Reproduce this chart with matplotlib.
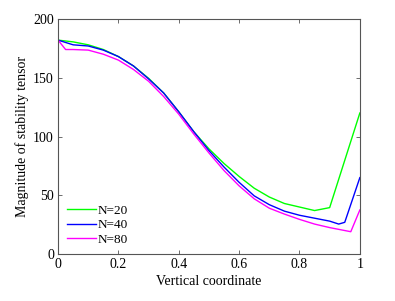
import numpy as np
import matplotlib
matplotlib.use("Agg")
import matplotlib.pyplot as plt

plt.rcParams['font.family'] = ['Liberation Serif', 'DejaVu Serif']

# values
x20 = [0, 0.05, 0.1, 0.15, 0.2, 0.25, 0.3, 0.35, 0.4, 0.45, 0.5, 0.55, 0.6, 0.65, 0.7, 0.75, 0.8, 0.85, 0.9, 1.0]
y20 = [182, 180.5, 178, 174, 168, 160, 149.5, 137, 121, 104, 89.5, 77, 66, 56, 48.5, 43, 40, 37, 39.5, 120]

x40 = [0, 0.05, 0.1, 0.15, 0.2, 0.25, 0.3, 0.35, 0.4, 0.45, 0.5, 0.55, 0.6, 0.65, 0.7, 0.75, 0.8, 0.85, 0.9, 0.93, 0.95, 1.0]
y40 = [182, 178, 177, 173.5, 168, 160, 149, 137, 121, 104, 88, 74, 61, 49.5, 42, 36.5, 33, 30.5, 28, 25.5, 27, 65]

x80 = [0, 0.025, 0.05, 0.1, 0.15, 0.2, 0.25, 0.3, 0.35, 0.4, 0.45, 0.5, 0.55, 0.6, 0.65, 0.7, 0.75, 0.8, 0.85, 0.9, 0.95, 0.97, 1.0]
y80 = [182, 174, 174, 173.5, 170, 165, 157, 147, 134, 119, 102, 86, 71, 58, 47, 39, 34, 29.5, 25.5, 22.5, 20, 19, 37.5]

labels = ['N=20', 'N=40', 'N=80']

fig = plt.figure(figsize=(3.95, 3.01), dpi=100)
ax = fig.add_axes([0.147, 0.156, 0.764, 0.781])

ax.plot(x20, y20, color='#00ff00', lw=1.0, label=labels[0])
ax.plot(x40, y40, color='#0000ff', lw=1.0, label=labels[1])
ax.plot(x80, y80, color='#ff00ff', lw=1.0, label=labels[2])

ax.set_xlim(0, 1)
ax.set_ylim(0, 200)
ax.set_xticks([0, 0.2, 0.4, 0.6, 0.8, 1])
ax.set_xticklabels(['0', '0.2', '0.4', '0.6', '0.8', '1'])
ax.set_yticks([0, 50, 100, 150, 200])
ax.tick_params(direction='in', top=True, right=True, labelsize=10, length=3, width=0.6, color='#555555', pad=3)
for s in ax.spines.values():
    s.set_color('#555555')
    s.set_linewidth(0.8)

ax.set_xlabel('Vertical coordinate', fontsize=10, labelpad=3)
ax.set_ylabel('Magnitude of stability tensor', fontsize=10, labelpad=3)

ax.legend(loc='lower left', frameon=False, fontsize=9.5, handlelength=2.2, handletextpad=0.1,
          labelspacing=0.18, borderaxespad=0.3, bbox_to_anchor=(0.0, -0.005))

fig.savefig('out.png', dpi=100)
